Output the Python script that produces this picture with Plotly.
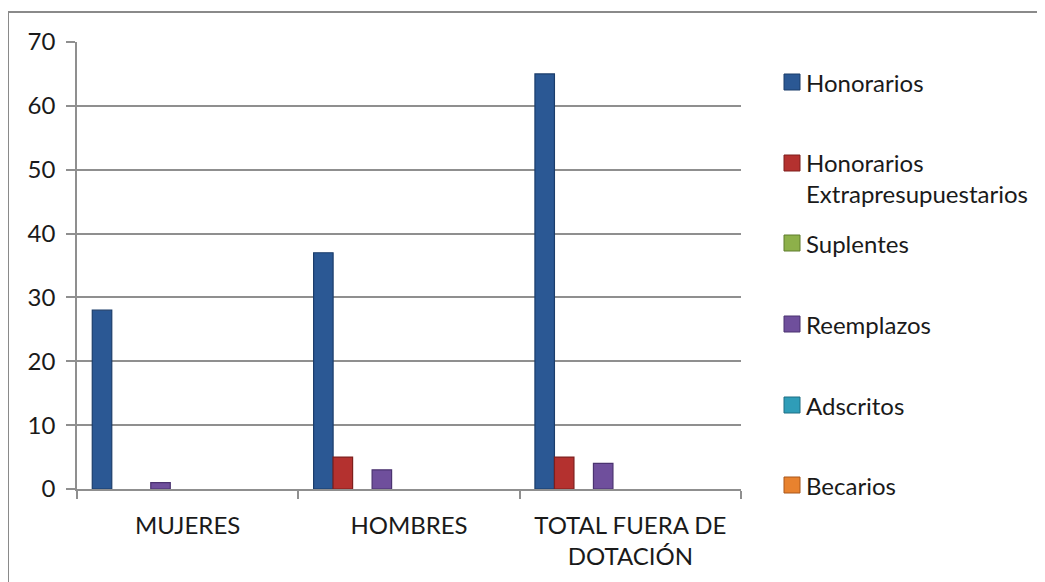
import plotly.graph_objects as go

categories = ["MUJERES", "HOMBRES", "TOTAL FUERA DE<br>DOTACIÓN"]
series_names = ["Honorarios", "Honorarios<br>Extrapresupuestarios", "Suplentes",
                "Reemplazos", "Adscritos", "Becarios"]
honorarios = [28, 37, 65]
honorarios_extra = [0, 5, 5]
suplentes = [0, 0, 0]
reemplazos = [1, 3, 4]
adscritos = [0, 0, 0]
becarios = [0, 0, 0]
y_ticks = [0, 10, 20, 30, 40, 50, 60, 70]

series_values = [honorarios, honorarios_extra, suplentes, reemplazos, adscritos, becarios]
fill_colors = ["#2B5894", "#B4312F", "#8DB04A", "#6F4F9C", "#2F9DB8", "#E8822E"]
edge_colors = ["#1B3D6B", "#7E1E1C", "#5F7D2C", "#4B3370", "#1E6F84", "#A9561A"]

# page has an 8px body margin; work in page pixels and convert
OFF = 8
W, H = 1045 - OFF, 582 - OFF
plot_left, plot_right, plot_top, plot_bottom = 77 - OFF, 741 - OFF, 42 - OFF, 489 - OFF
L, R, T, B = plot_left, W - plot_right, plot_top, H - plot_bottom
pw, ph = plot_right - plot_left, plot_bottom - plot_top

def px_x(x):
    return (x - OFF - plot_left) / pw

def px_y(y):
    return (plot_bottom - (y - OFF)) / ph

FONT = "Lato"
fs = 24

fig = go.Figure()
bar_w = 0.0881
start = -0.431
for i, (name, vals) in enumerate(zip(series_names, series_values)):
    fig.add_trace(go.Bar(
        x=categories, y=vals, name=name.replace("<br>", " "),
        width=bar_w, offset=start + i * bar_w,
        marker=dict(color=fill_colors[i],
                    line=dict(color=edge_colors[i], width=[1.2 if v > 0 else 0 for v in vals])),
        showlegend=False,
    ))

# manual legend (layout elements)
leg_centers_px = [82, 163, 243, 324, 405, 485]
sq = 16
for i, name in enumerate(series_names):
    cy = leg_centers_px[i]
    fig.add_shape(type="rect", xref="paper", yref="paper",
                  x0=px_x(784), x1=px_x(784 + sq),
                  y0=px_y(cy + sq / 2), y1=px_y(cy - sq / 2),
                  fillcolor=fill_colors[i], line=dict(color=edge_colors[i], width=1))
    multi = "<br>" in name
    fig.add_annotation(xref="paper", yref="paper", x=px_x(804),
                       y=px_y(cy - fs * 0.72) if multi else px_y(cy),
                       xanchor="left", yanchor="top" if multi else "middle",
                       text=name, showarrow=False, align="left",
                       font=dict(family=FONT, size=fs, color="#1a1a1a"))

# outer frame
fig.add_shape(type="rect", xref="paper", yref="paper",
              x0=px_x(8), x1=px_x(1070), y0=px_y(600), y1=px_y(12),
              line=dict(color="#8a8a8a", width=2), fillcolor="rgba(0,0,0,0)", layer="below")

fig.update_layout(
    width=W, height=H,
    margin=dict(l=L, r=R, t=T, b=B),
    paper_bgcolor="white", plot_bgcolor="white",
    font=dict(family=FONT, size=fs, color="#1a1a1a"),
    barmode="overlay",
    showlegend=False,
)
fig.update_xaxes(
    type="category", range=[-0.5, 2.5],
    showline=True, linecolor="#8f8f8f", linewidth=1.5,
    ticks="outside", tickson="boundaries", ticklen=8, tickcolor="#8f8f8f", tickwidth=1.5,
    showgrid=False, tickfont=dict(family=FONT, size=fs, color="#1a1a1a"),
    ticklabelstandoff=14,
)
fig.update_yaxes(
    range=[0, 70], tickvals=y_ticks,
    showline=True, linecolor="#8f8f8f", linewidth=1.5,
    ticks="outside", ticklen=9, tickcolor="#8f8f8f", tickwidth=1.5,
    showgrid=True, gridcolor="#8f8f8f", gridwidth=1.5, zeroline=False,
    tickfont=dict(family=FONT, size=fs, color="#1a1a1a"),
    ticklabelstandoff=6,
)

fig.write_html("out.html")
